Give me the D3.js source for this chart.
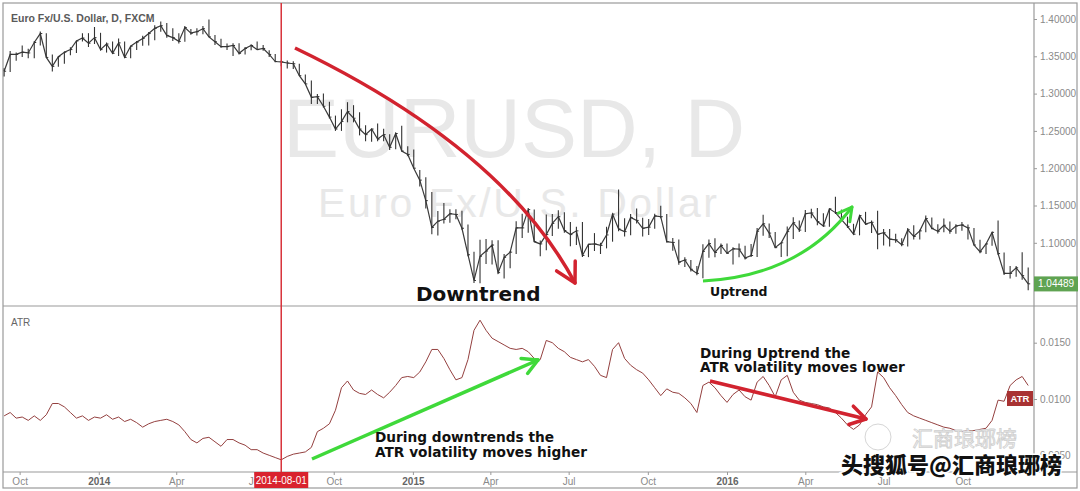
<!DOCTYPE html>
<html><head><meta charset="utf-8">
<script src="https://cdn.jsdelivr.net/npm/d3@7"></script>
<style>html,body{margin:0;padding:0;background:#fff;} svg{display:block}</style>
</head><body>
<svg id="c" width="1080" height="491"></svg>
<script>
// ---- DATA (weekly, Friday closes, EURUSD daily chart) ----
const firstWeek = "2013-09-13";
const lastWeek = "2016-12-16";
const high = [
 1.3340,1.3570,1.3550,1.3645,1.3600,1.3705,1.3832,1.3810,1.3525,1.3500,1.3565,1.3620,1.3710,1.3810,1.3810,1.3893,
 1.3815,1.3685,1.3700,1.3740,1.3700, 1.3640,1.3705,1.3775,1.3825, 1.3915,1.3967,1.3945,1.3875, 1.3810,1.3905,1.3865,1.3875,
 1.3905,1.3993,1.3785,1.3735,1.3670, 1.3675,1.3675,1.3625,1.3660, 1.3700,1.3650,1.3580,1.3530, 1.3445,1.3445,1.3435,1.3400,1.3255,
 1.3175,1.2995,1.3000,1.2890, 1.2705,1.2790,1.2885,1.2845,1.2750, 1.2575,1.2530,1.2600,1.2530, 1.2455,1.2475,1.2570,1.2295,
 1.2250,1.1975,1.1880,1.1680,1.1425, 1.1535,1.1450,1.1450,1.1430, 1.1245,1.0880,1.1040,1.1050, 1.1035,1.1035,1.0850,1.0890,
 1.1290,1.1390,1.1467,1.1445,1.1030, 1.1380,1.1385,1.1435,1.1410, 1.1280,1.1215,1.1280,1.0985,1.1130, 1.1000,1.1215,1.1390,1.1714,
 1.1330,1.1385,1.1460,1.1335, 1.1320,1.1390,1.1495,1.1385,1.1065, 1.1045,1.0805,1.0770,1.0690, 1.0980,1.1045,1.1060,1.0990,
 1.0990,1.0940,1.0990,1.0960,1.0985, 1.1200,1.1376,1.1260,1.1145, 1.1000,1.1220,1.1342,1.1300, 1.1440,1.1455,1.1465,1.1395,1.1460,
 1.1616,1.1445,1.1350,1.1255, 1.1375,1.1415,1.1300,1.1428, 1.1185,1.1185,1.1120,1.1060,1.1200, 1.1235,1.1175,1.1366,1.1340,
 1.1250,1.1325,1.1285,1.1250,1.1280, 1.1245,1.1200,1.1040,1.0990, 1.1145,1.1299,1.0870,1.0690, 1.0690,1.0874,1.0670
];
const low = [
 1.3230,1.3290,1.3440,1.3490,1.3475,1.3475,1.3645,1.3480,1.3296,1.3360,1.3400,1.3515,1.3545,1.3700,1.3625,1.3665,
 1.3575,1.3550,1.3530,1.3505,1.3480, 1.3475,1.3585,1.3640,1.3645, 1.3715,1.3830,1.3750,1.3705, 1.3672,1.3695,1.3790,1.3780,
 1.3795,1.3755,1.3650,1.3615,1.3585, 1.3503,1.3525,1.3525,1.3580, 1.3590,1.3575,1.3490,1.3420, 1.3365,1.3335,1.3330,1.3240,1.3130,
 1.2860,1.2860,1.2815,1.2665, 1.2500,1.2500,1.2615,1.2615,1.2440, 1.2360,1.2355,1.2360,1.2360, 1.2245,1.2255,1.2225,1.2165,
 1.1995,1.1755,1.1460,1.1115,1.1098, 1.1260,1.1270,1.1315,1.1175, 1.0820,1.0460,1.0457,1.0715, 1.0710,1.0585,1.0520,1.0660,
 1.0850,1.1065,1.1135,1.1010,1.0820, 1.0900,1.1090,1.1190,1.1135, 1.0955,1.0970,1.0810,1.0808,1.0890, 1.0850,1.0925,1.1015,1.1155,
 1.1085,1.1100,1.1260,1.1085, 1.1105,1.1190,1.1330,1.1005,1.0895, 1.0705,1.0675,1.0615,1.0565, 1.0524,1.0800,1.0805,1.0850,
 1.0850,1.0710,1.0805,1.0775,1.0810, 1.0810,1.1095,1.1065,1.0930, 1.0810,1.0820,1.1050,1.1145, 1.1145,1.1330,1.1235,1.1215,1.1215,
 1.1385,1.1305,1.1200,1.1110, 1.1100,1.1240,1.1130,1.0912, 1.0965,1.0950,1.1000,1.0955,1.0950, 1.1045,1.1045,1.1140,1.1180,
 1.1125,1.1140,1.1120,1.1120,1.1160, 1.1045,1.0965,1.0860,1.0850, 1.0960,1.0840,1.0570,1.0520, 1.0545,1.0505,1.0365
];
const close = [
 1.3300,1.3525,1.3525,1.3555,1.3545,1.3685,1.3805,1.3485,1.3365,1.3495,1.3555,1.3590,1.3705,1.3745,1.3675,1.3750,
 1.3590,1.3665,1.3540,1.3680,1.3485, 1.3635,1.3690,1.3740,1.3805, 1.3875,1.3910,1.3780,1.3750, 1.3700,1.3885,1.3810,1.3830,
 1.3870,1.3760,1.3695,1.3630,1.3630, 1.3645,1.3540,1.3605,1.3645, 1.3590,1.3605,1.3525,1.3430, 1.3425,1.3410,1.3400,1.3240,1.3130,
 1.2950,1.2960,1.2830,1.2685, 1.2525,1.2625,1.2760,1.2670,1.2525, 1.2450,1.2525,1.2390,1.2450, 1.2280,1.2465,1.2230,1.2185,
 1.2000,1.1840,1.1565,1.1205,1.1290, 1.1315,1.1390,1.1380,1.1195, 1.0840,1.0495,1.0820,1.0890, 1.0970,1.0600,1.0805,1.0875,
 1.1200,1.1200,1.1445,1.1015,1.0985, 1.1110,1.1260,1.1350,1.1165, 1.1110,1.1160,1.0830,1.0980,1.0985, 1.0965,1.1105,1.1385,1.1185,
 1.1150,1.1340,1.1300,1.1195, 1.1210,1.1360,1.1350,1.1015,1.1005, 1.0740,1.0770,1.0645,1.0590, 1.0885,1.0990,1.0870,1.0965,
 1.0860,1.0920,1.0915,1.0795,1.0830, 1.1155,1.1255,1.1130,1.0935, 1.1000,1.1150,1.1270,1.1170, 1.1390,1.1400,1.1285,1.1225,1.1455,
 1.1405,1.1310,1.1220,1.1115, 1.1365,1.1250,1.1275,1.1115, 1.1135,1.1050,1.1040,1.0975,1.1175, 1.1085,1.1160,1.1325,1.1195,
 1.1155,1.1235,1.1155,1.1225,1.1240, 1.1200,1.0970,1.0880,1.0985, 1.1140,1.0855,1.0590,1.0590, 1.0665,1.0560,1.0450
];
const atr = [
 0.0085,0.0088,0.0083,0.0084,0.0081,0.0085,0.0081,0.0086,0.0096,0.0096,0.0093,0.0088,0.0083,0.0085,0.0081,0.0084,
 0.0083,0.0086,0.0082,0.0084,0.0080,0.0082,0.0079,0.0075,0.0078,0.0080,0.0081,0.0082,0.0080,0.0077,0.0071,0.0064,0.0061,0.0065,
 0.0066,0.0062,0.0058,0.0064,0.0064,0.0061,0.0059,0.0055,0.0055,0.0052,0.0050,0.0048,0.0046,0.0049,0.0051,0.0052,0.0053,0.0057,
 0.0071,0.0074,0.0078,0.0090,0.0110,0.0116,0.0108,0.0105,0.0104,0.0108,0.0104,0.0101,0.0106,0.0112,0.0119,0.0120,
 0.0119,0.0124,0.0133,0.0144,0.0144,0.0136,0.0126,0.0117,0.0119,0.0135,0.0161,0.0170,0.0161,0.0154,0.0151,0.0148,0.0145,0.0144,
 0.0145,0.0142,0.0136,0.0135,0.0152,0.0150,0.0145,0.0142,0.0137,0.0135,0.0133,0.0135,0.0129,0.0121,0.0119,0.0144,0.0150,0.0136,
 0.0130,0.0126,0.0123,0.0117,0.0110,0.0103,0.0109,0.0106,0.0105,0.0101,0.0096,0.0088,0.0112,0.0115,0.0110,0.0103,
 0.0097,0.0104,0.0108,0.0102,0.0099,0.0115,0.0120,0.0112,0.0102,0.0117,0.0121,0.0106,0.0099,0.0097,0.0096,0.0095,0.0093,0.0092,
 0.0088,0.0083,0.0077,0.0073,0.0077,0.0086,0.0093,0.0124,0.0119,0.0110,0.0103,0.0095,0.0088,0.0085,0.0083,0.0081,0.0079,0.0077,
 0.0075,0.0074,0.0072,0.0071,0.0072,0.0072,0.0073,0.0074,0.0081,0.0099,0.0098,0.0112,0.0117,0.0120,0.0112
];
const priceTicks = [1.10, 1.15, 1.20, 1.25, 1.30, 1.35, 1.40];
const atrTicks = [0.0050, 0.0100, 0.0150];
const timeTicks = ["2013-10-01","2014-01-01","2014-04-01","2014-07-01","2014-10-01","2015-01-01","2015-04-01",
                   "2015-07-01","2015-10-01","2016-01-01","2016-04-01","2016-07-01","2016-10-01"];
const lastPrice = 1.04489;
const markerDate = "2014-08-01";

// ---- LAYOUT ----
const L = 3, R = 1034, T = 3, SEP = 306, B = 472, OB = 488, OR = 1077;
const svg = d3.select("#c");
const pd = s => d3.utcParse("%Y-%m-%d")(s);
const weeks = d3.utcFriday.range(pd(firstWeek), d3.utcDay.offset(pd(lastWeek), 1));

const x = d3.scaleUtc().domain([pd("2014-01-01"), pd("2016-01-01")]).range([98.8, 727]);
const yP = d3.scaleLinear().domain([1.40, 1.10]).range([19, 242.8]);
const yA = d3.scaleLinear().domain([0.015, 0.010]).range([342.7, 399]);

const defs = svg.append("defs");
defs.append("clipPath").attr("id","cp").append("rect").attr("x",L).attr("y",T).attr("width",R-L).attr("height",SEP-T);
defs.append("clipPath").attr("id","ca").append("rect").attr("x",L).attr("y",SEP).attr("width",R-L).attr("height",B-SEP);

// watermarks
svg.append("text").attr("x",283).attr("y",157).attr("font-family","Liberation Sans, Arial, sans-serif")
  .attr("font-size",84).attr("fill","#e8e8e8").text("EURUSD, D");
svg.append("text").attr("x",318).attr("y",217).attr("font-family","Liberation Sans, Arial, sans-serif")
  .attr("font-size",41).attr("fill","#e8e8e8").attr("textLength",399).attr("lengthAdjust","spacing").text("Euro Fx/U.S. Dollar");

// frame lines
const line = (x1,y1,x2,y2,c,w)=>svg.append("line").attr("x1",x1).attr("y1",y1).attr("x2",x2).attr("y2",y2)
  .attr("stroke",c).attr("stroke-width",w||1);
svg.append("rect").attr("x",L).attr("y",T).attr("width",OR-L).attr("height",OB-T).attr("fill","none").attr("stroke","#9a9a9a").attr("stroke-width",1.2);
line(L,SEP,OR,SEP,"#9a9a9a",1.2);
line(R,T,R,B,"#9a9a9a",1.2);
line(L,B,OR,B,"#9a9a9a",1.2);

// price bars
const gp = svg.append("g").attr("clip-path","url(#cp)");
const pts = weeks.map((d,i)=>({d, h:high[i], l:low[i], c:close[i], a:atr[i]}));
gp.append("path").datum(pts).attr("fill","none").attr("stroke","#3a3a3a").attr("stroke-width",1.2)
  .attr("d", d3.line().x(p=>x(p.d)).y(p=>yP(p.c)));
gp.selectAll("line.bar").data(pts).join("line").attr("class","bar")
  .attr("x1",p=>x(p.d)).attr("x2",p=>x(p.d)).attr("y1",p=>yP(p.h)).attr("y2",p=>yP(p.l))
  .attr("stroke","#333").attr("stroke-width",1.1);
gp.selectAll("line.cl").data(pts).join("line").attr("class","cl")
  .attr("x1",p=>x(p.d)).attr("x2",p=>x(p.d)+2).attr("y1",p=>yP(p.c)).attr("y2",p=>yP(p.c))
  .attr("stroke","#333").attr("stroke-width",1);

// ATR line
const ga = svg.append("g").attr("clip-path","url(#ca)");
ga.append("path").datum(pts).attr("fill","none").attr("stroke","#94403f").attr("stroke-width",1)
  .attr("d", d3.line().x(p=>x(p.d)).y(p=>yA(p.a)));

// axes
const fontAx = "Liberation Sans, Arial, sans-serif";
const ax1 = svg.append("g").attr("transform",`translate(${R},0)`)
  .call(d3.axisRight(yP).tickValues(priceTicks).tickSize(3).tickPadding(3).tickFormat(d3.format(".5f")));
const ax2 = svg.append("g").attr("transform",`translate(${R},0)`)
  .call(d3.axisRight(yA).tickValues(atrTicks).tickSize(3).tickPadding(3).tickFormat(d3.format(".4f")));
const ax3 = svg.append("g").attr("transform",`translate(0,${B})`)
  .call(d3.axisBottom(x).tickValues(timeTicks.map(pd)).tickSize(3).tickPadding(3)
    .tickFormat(d=>d.getUTCMonth()===0 ? d3.utcFormat("%Y")(d) : d3.utcFormat("%b")(d)));
[ax1,ax2,ax3].forEach(a=>{
  a.select(".domain").remove();
  a.selectAll("line").attr("stroke","#999");
  a.selectAll("text").attr("fill","#8a8a8a").attr("font-family",fontAx).attr("font-size",10);
});
ax3.selectAll("text").filter(d=>d.getUTCMonth()===0).attr("font-weight","bold").attr("fill","#666");

// panel titles
svg.append("text").attr("x",11).attr("y",22).attr("font-family",fontAx).attr("font-weight","bold")
  .attr("font-size",10.5).attr("fill","#5a5a5a").text("Euro Fx/U.S. Dollar, D, FXCM");
svg.append("text").attr("x",11).attr("y",326).attr("font-family",fontAx)
  .attr("font-size",10).attr("fill","#666").text("ATR");

// marker line
const xm = x(pd(markerDate));
line(xm,T,xm,B,"#d8323a",1.5);
svg.append("rect").attr("x",xm-27).attr("y",B).attr("width",54).attr("height",16).attr("fill","#d9232e");
svg.append("text").attr("x",xm).attr("y",B+12).attr("text-anchor","middle").attr("font-family",fontAx)
  .attr("font-size",10).attr("fill","#fff").text(markerDate);

// last price label
svg.append("rect").attr("x",R).attr("y",yP(lastPrice)-7.5).attr("width",44).attr("height",15).attr("fill","#5fa352");
svg.append("text").attr("x",R+4).attr("y",yP(lastPrice)+3.5).attr("font-family",fontAx)
  .attr("font-size",10).attr("fill","#fff").text(d3.format(".5f")(lastPrice));
// ATR label
svg.append("rect").attr("x",1007).attr("y",391).attr("width",26).attr("height",15).attr("fill","#a83232");
svg.append("text").attr("x",1020).attr("y",402).attr("text-anchor","middle").attr("font-family",fontAx)
  .attr("font-weight","bold").attr("font-size",9.5).attr("fill","#fff").text("ATR");

// annotations
const red = "#d2232f", green = "#3fd93a";
function head(tip, ang, len, spread, col, w){
  [ang+spread, ang-spread].forEach(a=>{
    svg.append("line").attr("x1",tip[0]-len*Math.cos(a)).attr("y1",tip[1]-len*Math.sin(a))
      .attr("x2",tip[0]).attr("y2",tip[1]).attr("stroke",col).attr("stroke-width",w).attr("stroke-linecap","round");
  });
}
svg.append("path").attr("d","M295,48 Q503,148 575,283").attr("fill","none").attr("stroke",red).attr("stroke-width",3.5);
head([575,283], Math.atan2(283-148,575-503), 22, 0.5, red, 3.5);
svg.append("path").attr("d","M703,281 Q800,276 852,207").attr("fill","none").attr("stroke",green).attr("stroke-width",3);
head([852,207], Math.atan2(207-276,852-800), 15, 0.5, green, 3);
svg.append("path").attr("d","M312,459 L538,360").attr("fill","none").attr("stroke",green).attr("stroke-width",3.5);
head([538,360], Math.atan2(360-459,538-312), 17, 0.5, green, 3.5);
svg.append("path").attr("d","M710,381 L866,419").attr("fill","none").attr("stroke",red).attr("stroke-width",3.5);
head([866,419], Math.atan2(419-381,866-710), 18, 0.55, red, 3.5);

const fA = "DejaVu Sans, Verdana, sans-serif";
const txt = (t,xx,yy,fs)=>svg.append("text").attr("x",xx).attr("y",yy).attr("font-family",fA).attr("font-weight","bold")
  .attr("font-size",fs).attr("fill","#111").text(t);
txt("Downtrend",416,301,20);
txt("Uptrend",710,296,12.5);
txt("During downtrends the",375,442,13.7);
txt("ATR volatility moves higher",375,457,13.7);
txt("During Uptrend the",700,358,13.7);
txt("ATR volatility moves lower",700,372,13.7);

// faint + bold site watermarks
svg.append("circle").attr("cx",878).attr("cy",437).attr("r",13).attr("fill","none").attr("stroke","#d6d6d6").attr("stroke-width",1);
svg.append("text").attr("x",912).attr("y",446).attr("font-family","Noto Sans CJK SC, sans-serif").attr("font-size",21)
  .attr("fill","#f4f4f4").attr("stroke","#cfcfcf").attr("stroke-width",0.8).text("汇商琅琊榜");
svg.append("text").attr("x",841).attr("y",473).attr("font-family","Noto Sans CJK SC, sans-serif").attr("font-weight",900)
  .attr("font-size",22).attr("fill","#111").attr("stroke","#fff").attr("stroke-width",3).attr("paint-order","stroke")
  .text("头搜狐号@汇商琅琊榜");
</script>
</body></html>
